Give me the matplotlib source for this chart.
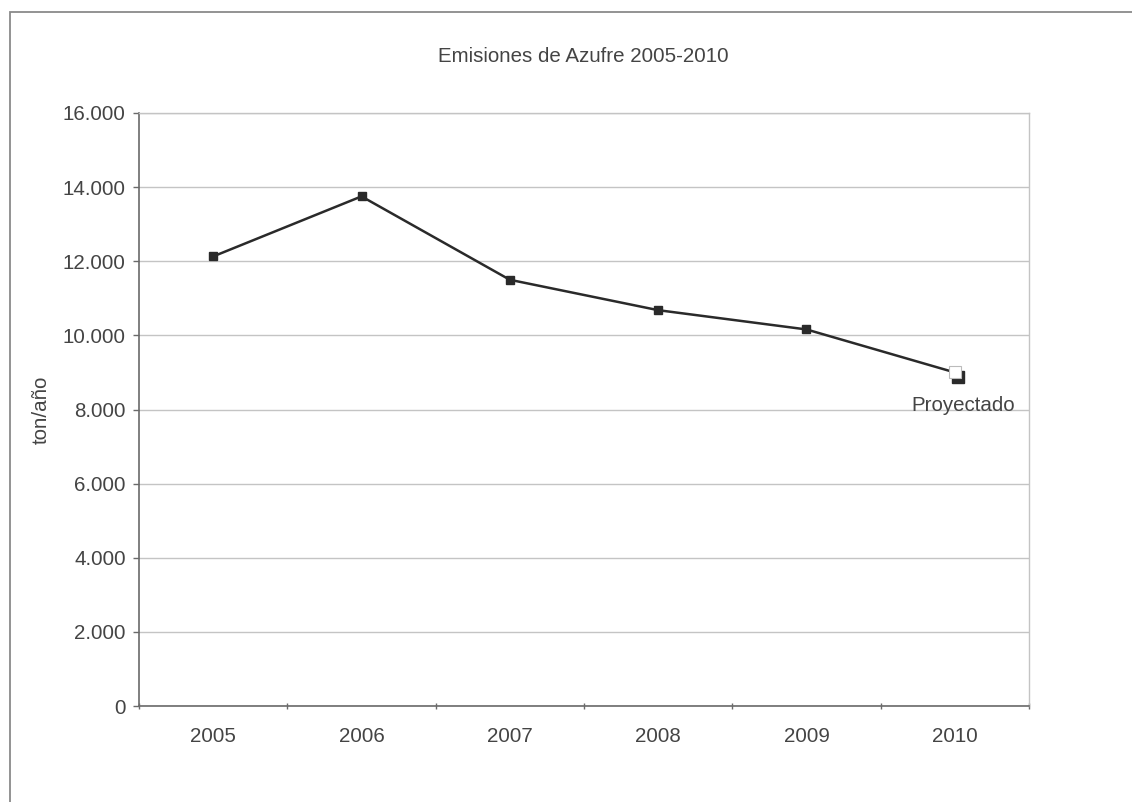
import numpy as np
import matplotlib.pyplot as plt
from matplotlib.patches import Rectangle
from matplotlib.ticker import FuncFormatter, FixedLocator

plt.rcParams['font.family'] = ['Liberation Sans', 'DejaVu Sans']

years = ['2005', '2006', '2007', '2008', '2009', '2010']
emisiones = [12130, 13750, 11500, 10680, 10160, 9000]
yticks = [0, 2000, 4000, 6000, 8000, 10000, 12000, 14000, 16000]

W, H = 1132, 802
fig = plt.figure(figsize=(W / 100, H / 100), dpi=100)

# outer chart frame (runs off the right and bottom edges)
fig.patches.append(Rectangle((10 / W, -0.05), 1.2, 1 - 12 / H + 0.05,
                             transform=fig.transFigure, fill=False,
                             edgecolor='#8a8a8a', lw=1.3))

left, right, top, bottom = 139, 1029, 113, 706
ax = fig.add_axes([left / W, 1 - bottom / H, (right - left) / W, (bottom - top) / H])

x = np.arange(len(years))
txt = '#444444'
fs = 14.8

ax.plot(x, emisiones, color='#2a2a2a', lw=1.8, zorder=3)
ax.plot(x[:-1], emisiones[:-1], ls='none', marker='s', ms=6,
        mfc='#2a2a2a', mec='#2a2a2a', zorder=4)
# projected point: white square with a dark drop shadow
ax.plot(x[-1] + 0.018, emisiones[-1] - 110, ls='none', marker='s', ms=9,
        mfc='#2a2a2a', mec='#2a2a2a', zorder=4)
ax.plot(x[-1], emisiones[-1], ls='none', marker='s', ms=9,
        mfc='white', mec='#bbbbbb', mew=0.8, zorder=5)
ax.annotate('Proyectado', (x[-1], emisiones[-1]), xytext=(6, -24),
            textcoords='offset points', ha='center', va='center',
            fontsize=fs, color=txt)

ax.set_xlim(-0.5, len(years) - 0.5)
ax.set_ylim(0, 16000)
ax.yaxis.set_major_locator(FixedLocator(yticks))
ax.yaxis.set_major_formatter(FuncFormatter(lambda v, p: f'{int(v):,}'.replace(',', '.')))
ax.set_xticks(x)
ax.set_xticklabels(years)
ax.set_xticks(np.arange(-0.5, len(years)), minor=True)

ax.grid(axis='y', color='#c4c4c4', lw=1.0, zorder=0)
ax.set_axisbelow(True)
for s in ['top', 'right']:
    ax.spines[s].set_color('#c4c4c4')
    ax.spines[s].set_linewidth(1.0)
for s in ['left', 'bottom']:
    ax.spines[s].set_color('#6a6a6a')
    ax.spines[s].set_linewidth(1.2)

ax.tick_params(axis='y', length=4.5, width=1, color='#6a6a6a', labelsize=fs,
               labelcolor=txt, pad=5)
ax.tick_params(axis='x', which='major', length=0, labelsize=fs,
               labelcolor=txt, pad=15)
ax.tick_params(axis='x', which='minor', length=5, width=1, color='#6a6a6a',
               direction='inout')

ax.set_ylabel('ton/año', fontsize=fs, color=txt)
ax.yaxis.set_label_coords((51 - left) / (right - left), (706 - 410) / 593)
fig.text(583 / W, 1 - 56 / H, 'Emisiones de Azufre 2005-2010',
         ha='center', va='center', fontsize=fs, color=txt)

fig.savefig('out.png', dpi=100, facecolor='white')
